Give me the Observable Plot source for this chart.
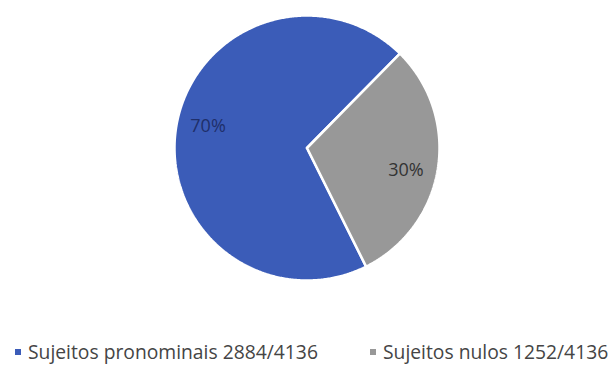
<!DOCTYPE html>
<html>
<head>
<meta charset="utf-8">
<script src="https://cdn.jsdelivr.net/npm/d3@7"></script>
<script src="https://cdn.jsdelivr.net/npm/@observablehq/plot@0.6"></script>
<style>
  html, body { margin: 0; padding: 0; background: #fff; }
  #wrap { position: relative; width: 616px; height: 365px; overflow: hidden; font-family: "Open Sans", sans-serif; }
  #legend { position: absolute; left: 0; top: 342px; width: 616px; height: 20px; line-height: 20px; font-size: 19.3px; color: #454545; white-space: nowrap; }
  .item { position: absolute; top: 0; line-height: 20px; }
  .sw { display: inline-block; width: 6px; height: 6px; margin-right: 7px; vertical-align: 4px; }
</style>
</head>
<body>
<div id="wrap"><div id="chart"></div><div id="legend"></div></div>
<script>
const categories = ["Sujeitos pronominais 2884/4136", "Sujeitos nulos 1252/4136"];
const values = [2884, 1252];
const percentLabels = ["70%", "30%"];
const colors = ["#3b5cb8", "#989898"];
const labelColors = ["#1f2f6a", "#333333"];

const startDeg = 153.5;
const total = d3.sum(values);
const rad = Math.PI / 180;

// build slice polygons in unit coordinates
const slicePts = [];
const labels = [];
let a = startDeg;
values.forEach((v, i) => {
  const span = v / total * 360;
  const a0 = a, a1 = a + span;
  slicePts.push({cat: categories[i], x: 0, y: 0});
  const n = Math.ceil(span * 2);
  for (let k = 0; k <= n; k++) {
    const t = (a0 + (a1 - a0) * k / n) * rad;
    slicePts.push({cat: categories[i], x: Math.sin(t), y: Math.cos(t)});
  }
  slicePts.push({cat: categories[i], x: 0, y: 0});
  const m = ((a0 + a1) / 2 + 3.5) * rad;
  const r = 0.765;
  labels.push({cat: categories[i], text: percentLabels[i], x: r * Math.sin(m), y: r * Math.cos(m), color: labelColors[i]});
  a = a1;
});

const chart = Plot.plot({
  width: 616,
  height: 300,
  marginLeft: 174,
  marginRight: 177,
  marginTop: 15,
  marginBottom: 20,
  x: {domain: [-1, 1], axis: null},
  y: {domain: [-1, 1], axis: null},
  color: {domain: categories, range: colors},
  style: {background: "transparent"},
  marks: [
    Plot.line(slicePts, {x: "x", y: "y", z: "cat", fill: "cat", stroke: "white", strokeWidth: 2.5, strokeLinejoin: "miter", curve: "linear"}),
    Plot.text(labels, {x: "x", y: "y", text: "text", fill: "color", fontSize: 18, fontFamily: "Open Sans, sans-serif"})
  ]
});
document.getElementById("chart").appendChild(chart);

const legend = document.getElementById("legend");
const lefts = [15, 370];
categories.forEach((c, i) => {
  const it = document.createElement("span");
  it.className = "item";
  it.style.left = lefts[i] + "px";
  const sw = document.createElement("span");
  sw.className = "sw";
  sw.style.background = colors[i];
  it.appendChild(sw);
  it.appendChild(document.createTextNode(c));
  legend.appendChild(it);
});
</script>
</body>
</html>
